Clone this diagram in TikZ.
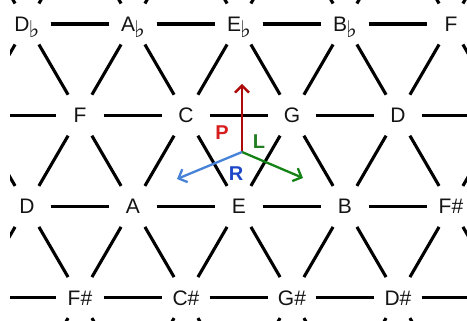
\documentclass[tikz,border=0pt]{standalone}
\usepackage{fontspec}
\setmainfont{Liberation Sans}
\newfontfamily\symfont{DejaVu Sans}
\usetikzlibrary{arrows.meta}

% pitch-class names on the lattice (row-column)
\newcommand\flt{\kern-1pt\raisebox{-6pt}{\symfont\bfseries\fontsize{23}{23}\selectfont ♭}}
\expandafter\def\csname nn-1-1\endcsname{D\flt}
\expandafter\def\csname nn-1-2\endcsname{A\flt}
\expandafter\def\csname nn-1-3\endcsname{E\flt}
\expandafter\def\csname nn-1-4\endcsname{B\flt}
\expandafter\def\csname nn-1-5\endcsname{F}
\expandafter\def\csname nn-2-1\endcsname{F}
\expandafter\def\csname nn-2-2\endcsname{C}
\expandafter\def\csname nn-2-3\endcsname{G}
\expandafter\def\csname nn-2-4\endcsname{D}
\expandafter\def\csname nn-3-1\endcsname{D}
\expandafter\def\csname nn-3-2\endcsname{A}
\expandafter\def\csname nn-3-3\endcsname{E}
\expandafter\def\csname nn-3-4\endcsname{B}
\expandafter\def\csname nn-3-5\endcsname{F\#}
\expandafter\def\csname nn-4-1\endcsname{F\#}
\expandafter\def\csname nn-4-2\endcsname{C\#}
\expandafter\def\csname nn-4-3\endcsname{G\#}
\expandafter\def\csname nn-4-4\endcsname{D\#}
\newcommand\notename[2]{\ifcsname nn-#1-#2\endcsname\csname nn-#1-#2\endcsname\fi}

\definecolor{pdark}{RGB}{175,10,10}
\definecolor{ptext}{RGB}{215,30,30}
\definecolor{ldark}{RGB}{20,130,20}
\definecolor{ltext}{RGB}{35,125,35}
\definecolor{rdark}{RGB}{70,130,215}
\definecolor{rtext}{RGB}{30,70,200}

\begin{document}
\begin{tikzpicture}[x=1pt,y=-1pt,
  note/.style={circle, minimum size=47pt, inner sep=0pt,
    text height=15pt, text depth=0pt,
    font=\fontsize{21}{21}\selectfont, text=black!92},
  link/.style={line width=3.1pt, black},
  move/.style={line width=2.3pt, -{Straight Barb[length=7pt,width=14pt,line width=2.3pt]}},
  movelabel/.style={font=\fontsize{20}{20}\selectfont\bfseries, inner sep=0pt}]
\useasboundingbox (0,0) rectangle (467,321);
\begin{scope}
\clip (10,0) rectangle (467,321);
% lattice points: odd rows start at x=27, even rows at x=80
\foreach \r in {0,...,5}{
  \foreach \c in {0,...,6}{
    \pgfmathsetmacro\xx{(mod(\r,2)==1 ? 27 : 80) + 106*(\c-1)}
    \pgfmathsetmacro\yy{24 + 91.2*(\r-1)}
    \node[note] (n\r\c) at (\xx,\yy) {\notename{\r}{\c}};
  }
}
% fifths (horizontal) and thirds (diagonal)
\foreach \r in {0,...,5}{
  \foreach \c in {0,...,6}{
    \pgfmathtruncatemacro\cn{\c+1}
    \pgfmathtruncatemacro\cl{\c-1}
    \pgfmathtruncatemacro\rn{\r+1}
    \ifnum\c<6 \draw[link] (n\r\c) -- (n\r\cn); \fi
    \ifnum\r<5
      \draw[link] (n\r\c) -- (n\rn\c);
      \ifodd\r
        \ifnum\c>0 \draw[link] (n\r\c) -- (n\rn\cl); \fi
      \else
        \ifnum\c<6 \draw[link] (n\r\c) -- (n\rn\cn); \fi
      \fi
    \fi
  }
}
\end{scope}
% P, L, R transformations
\coordinate (o) at (242,152);
\coordinate (ptip) at (242,84);
\coordinate (ltip) at (303,178);
\coordinate (rtip) at (177,179);
\draw[move, pdark] (o) -- (ptip);
\draw[move, ldark] (o) -- (ltip);
\draw[move, rdark] (o) -- (rtip);
\node[movelabel, text=ptext] (plab) at (222,133) {P};
\node[movelabel, text=ltext] (llab) at (259,142) {L};
\node[movelabel, text=rtext] (rlab) at (236,174) {R};
\end{tikzpicture}
\end{document}
